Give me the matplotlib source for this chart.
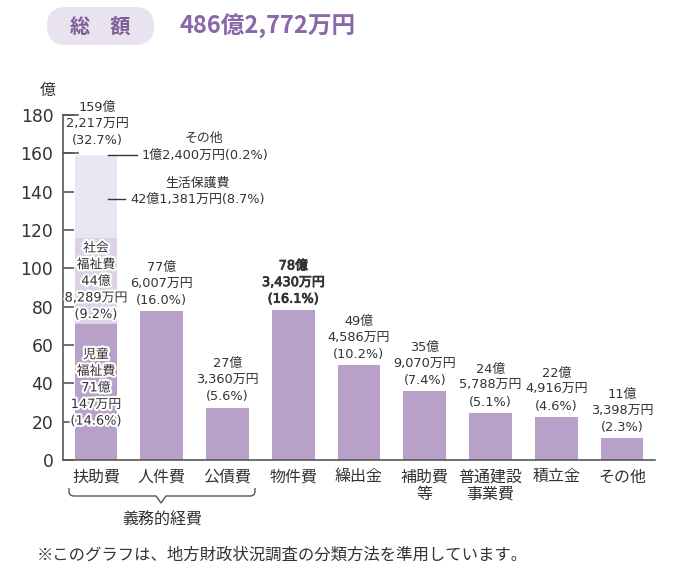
import matplotlib
matplotlib.use("Agg")
import matplotlib.pyplot as plt
from matplotlib.patches import FancyBboxPatch, PathPatch
from matplotlib.path import Path
import matplotlib.patheffects as pe

plt.rcParams['font.family'] = ['Noto Sans CJK JP', 'DejaVu Sans']
MIX = ['DejaVu Sans', 'Noto Sans CJK JP']   # wide digits + Japanese glyphs

# ---------------- data ----------------
categories = ['扶助費', '人件費', '公債費', '物件費', '繰出金', '補助費\n等',
              '普通建設\n事業費', '積立金', 'その他']
values = [159.2217, 77.6007, 27.3360, 78.3430, 49.4586, 35.9070,
          24.5788, 22.4916, 11.3398]
value_labels = ['159億\n2,217万円\n(32.7%)', '77億\n6,007万円\n(16.0%)',
                '27億\n3,360万円\n(5.6%)', '78億\n3,430万円\n(16.1%)',
                '49億\n4,586万円\n(10.2%)', '35億\n9,070万円\n(7.4%)',
                '24億\n5,788万円\n(5.1%)', '22億\n4,916万円\n(4.6%)',
                '11億\n3,398万円\n(2.3%)']
# breakdown of 扶助費 (stacked)
fujo_parts = ['児童福祉費', '社会福祉費', '生活保護費', 'その他']
fujo_values = [71.0147, 44.8289, 42.1381, 1.2400]
fujo_labels = ['児童\n福祉費\n71億\n147万円\n(14.6%)',
               '社会\n福祉費\n44億\n8,289万円\n(9.2%)',
               '42億1,381万円(8.7%)',
               '1億2,400万円(0.2%)']
yticks = [0, 20, 40, 60, 80, 100, 120, 140, 160, 180]
title_tag = '総　額'
total_text = '486億2,772万円'
group_label = '義務的経費'
footnote = '※このグラフは、地方財政状況調査の分類方法を準用しています。'

# ---------------- style ----------------
BAR = '#b9a0c8'
SEG_COLORS = ['#b9a0c8', '#dcd1e7', '#e9e5f1', '#efecf5']
TXT = '#333333'
AX = '#595757'
PURPLE = '#8a68a8'
FS = 9.3
LS = 1.36

W, H = 690, 583
fig = plt.figure(figsize=(W / 100, H / 100), dpi=100)
ax = fig.add_axes([63 / W, 1 - 460 / H, 592 / W, 345 / H])

x = list(range(len(categories)))
bw = 0.65
ax.bar(x[1:], values[1:], width=bw, color=BAR, zorder=2)
bottom = 0
for v, c in zip(fujo_values, SEG_COLORS):
    ax.bar(x[0], v, width=bw, bottom=bottom, color=c, zorder=2)
    bottom += v

ax.set_xlim(-0.5, len(categories) - 0.5)
ax.set_ylim(0, 180)
for s in ['top', 'right']:
    ax.spines[s].set_visible(False)
for s in ['left', 'bottom']:
    ax.spines[s].set_color(AX)
    ax.spines[s].set_linewidth(1.2)

ax.set_yticks(yticks)
ax.set_yticklabels([str(t) for t in yticks], fontsize=12.3, color=TXT,
                   family=['DejaVu Sans'])
ax.tick_params(axis='y', direction='in', length=8, width=1.2, color=AX, pad=7)
ax.set_xticks(x)
ax.set_xticklabels(categories, fontsize=11.5, color=TXT, linespacing=1.05)
ax.tick_params(axis='x', length=0, pad=6)

ytr = ax.get_yaxis_transform()
for yv in (180, 160):
    ax.plot([0, 0.026], [yv, yv], color=AX, lw=1.2, transform=ytr,
            clip_on=False, zorder=3)

semibold = [pe.withStroke(linewidth=0.6, foreground=TXT)]
for i in range(1, len(categories)):
    kw = {'path_effects': semibold} if i == 3 else {}
    ax.annotate(value_labels[i], xy=(x[i], values[i]), xytext=(0, 3),
                textcoords='offset points', ha='center', va='bottom',
                fontsize=FS, color=TXT, linespacing=LS, family=MIX, **kw)

ax.text(x[0] + 0.02, 175.2, value_labels[0], ha='center', va='center',
        fontsize=FS, color=TXT, linespacing=LS, clip_on=False, family=MIX)

stroke = [pe.withStroke(linewidth=3, foreground='white')]
ax.text(x[0], 37.6, fujo_labels[0], ha='center', va='center', fontsize=FS,
        color=TXT, linespacing=LS, path_effects=stroke, zorder=4, family=MIX)
ax.text(x[0], 93.2, fujo_labels[1], ha='center', va='center', fontsize=FS,
        color=TXT, linespacing=LS, path_effects=stroke, zorder=4, family=MIX)

y_seikatsu = 136.2
ax.plot([x[0] + 0.184, x[0] + 0.443], [y_seikatsu, y_seikatsu], color=TXT,
        lw=1, zorder=4)
ax.text(x[0] + 0.52, y_seikatsu, fujo_labels[2], ha='left', va='center',
        fontsize=FS, color=TXT, family=MIX)
ax.text(x[0] + 1.54, 144.6, fujo_parts[2], ha='center', va='center',
        fontsize=FS, color=TXT)

y_sonota = 159.1
ax.plot([x[0] + 0.184, x[0] + 0.625], [y_sonota, y_sonota], color=TXT,
        lw=1, zorder=4)
ax.text(x[0] + 0.70, y_sonota, fujo_labels[3], ha='left', va='center',
        fontsize=FS, color=TXT, family=MIX)
ax.text(x[0] + 1.645, 168.0, fujo_parts[3], ha='center', va='center',
        fontsize=FS, color=TXT)

# ---------------- overlay in pixel coords ----------------
top = fig.add_axes([0, 0, 1, 1], zorder=5)
top.set_xlim(0, W)
top.set_ylim(H, 0)
top.axis('off')

pill = FancyBboxPatch((47, 7), 107, 38, boxstyle='round,pad=0,rounding_size=19',
                      fc='#e9e3f0', ec='none')
top.add_patch(pill)
top.text(100, 26, title_tag, ha='center', va='center', fontsize=14.5,
         fontweight='bold', color='#7d5f98')
top.text(179, 26, total_text, ha='left', va='center', fontsize=17,
         fontweight='bold', color=PURPLE)

top.text(48, 90, '億', ha='center', va='center', fontsize=11.5, color=TXT)

xl, xr, xm = 69, 255, 161
yt, yb, yp = 488, 496, 503
r = 5
verts = [(xl, yt), (xl, yb - r), (xl, yb), (xl + r, yb),
         (xm - 5, yb), (xm, yp), (xm + 5, yb),
         (xr - r, yb), (xr, yb), (xr, yb - r), (xr, yt)]
codes = [Path.MOVETO, Path.LINETO, Path.CURVE3, Path.CURVE3,
         Path.LINETO, Path.LINETO, Path.LINETO,
         Path.LINETO, Path.CURVE3, Path.CURVE3, Path.LINETO]
top.add_patch(PathPatch(Path(verts, codes), fc='none', ec=AX, lw=1))
top.text(162, 520, group_label, ha='center', va='center', fontsize=11.5,
         color=TXT)

top.text(37, 555, footnote, ha='left', va='center', fontsize=11.8, color=TXT)

fig.savefig('out.png', dpi=100)
